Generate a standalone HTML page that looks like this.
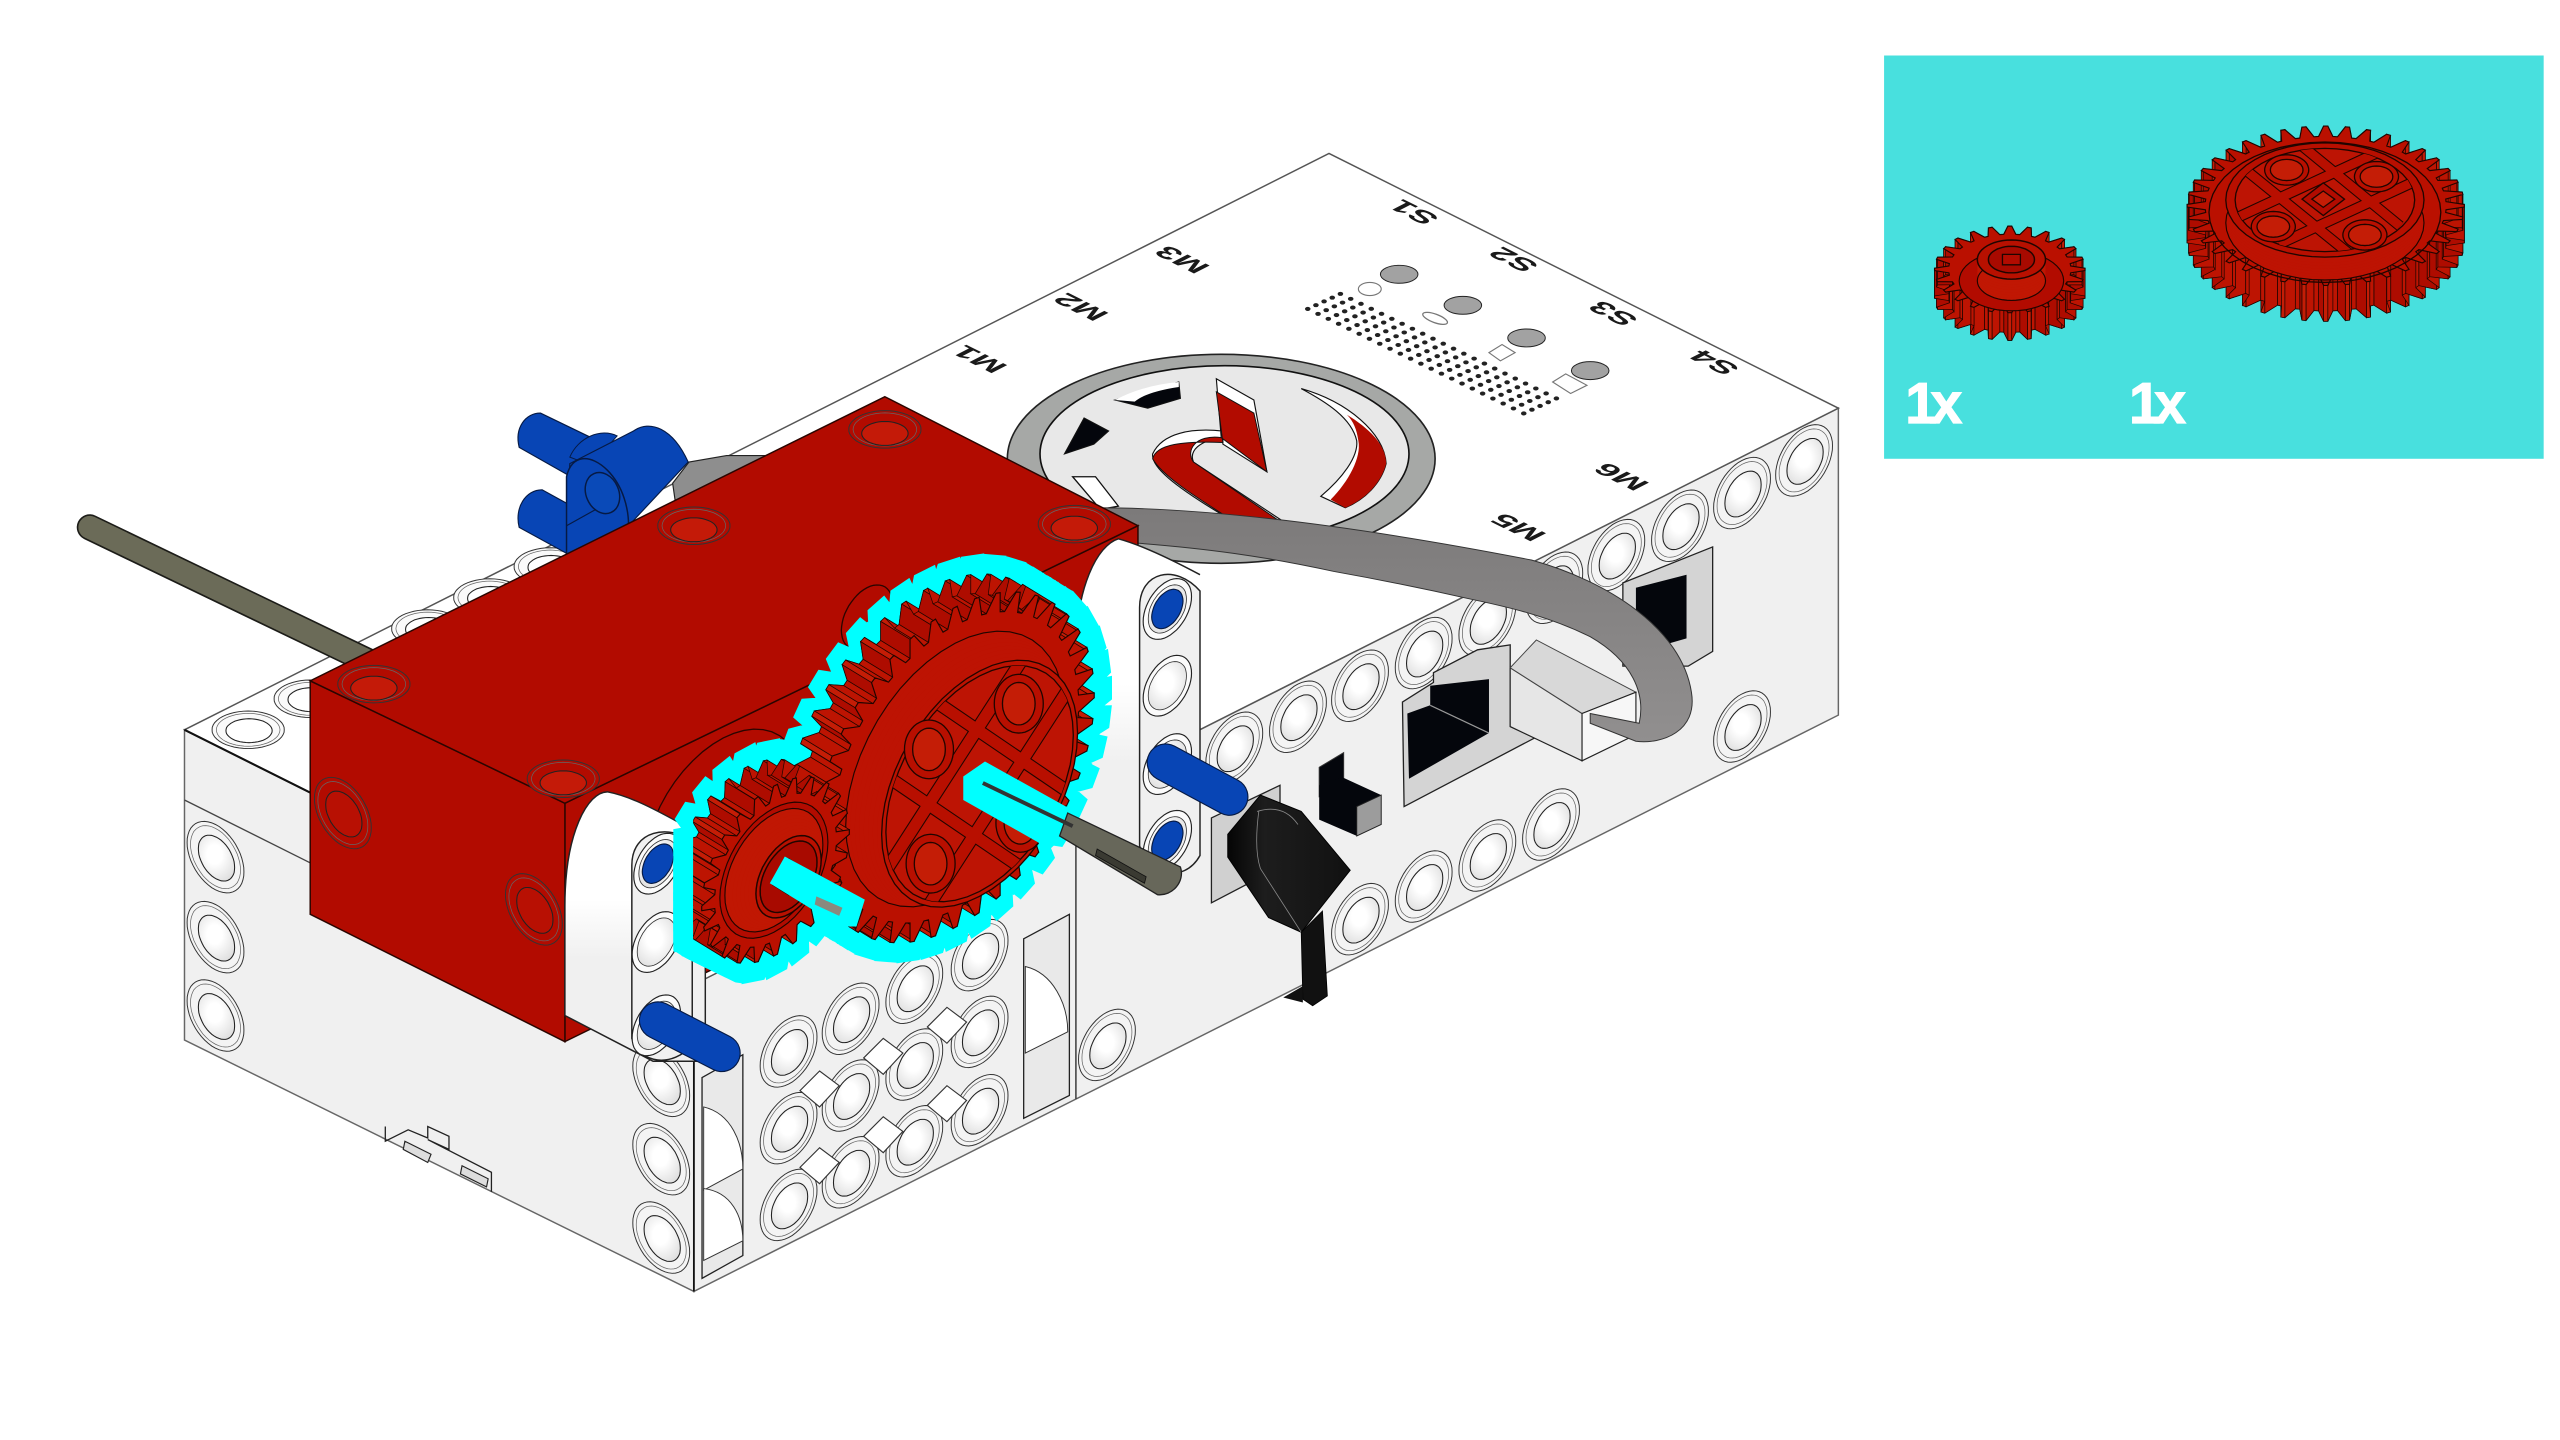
<!DOCTYPE html>
<html lang="en">
<head>
<meta charset="utf-8">
<title>Gear assembly step</title>
<style>
html,body{margin:0;padding:0;background:#fff;width:2560px;height:1440px;overflow:hidden}
svg{display:block}
text{font-family:"Liberation Sans",sans-serif}
</style>
</head>
<body>
<svg id="art" width="2560" height="1440" viewBox="0 0 1568 882" xmlns="http://www.w3.org/2000/svg">
<defs>
<radialGradient id="holeGrad" cx="0.45" cy="0.42" r="0.7"><stop offset="0.3" stop-color="#ffffff"/><stop offset="1" stop-color="#dcdcdc"/></radialGradient>
<linearGradient id="beamGrad" x1="0" y1="0" x2="0" y2="1"><stop offset="0" stop-color="#ffffff"/><stop offset="0.4" stop-color="#ffffff"/><stop offset="0.62" stop-color="#f0f0f0"/><stop offset="1" stop-color="#f0f0f0"/></linearGradient>
<linearGradient id="cableGrad" x1="0" y1="0" x2="0" y2="1"><stop offset="0" stop-color="#7c7a7a"/><stop offset="1" stop-color="#918f8f"/></linearGradient>
<linearGradient id="keyGrad" x1="0" y1="0" x2="1" y2="0"><stop offset="0" stop-color="#050505"/><stop offset="0.3" stop-color="#1d1d1d"/><stop offset="1" stop-color="#111"/></linearGradient>
<clipPath id="smallGearClip"><polygon points="424.6,400 560,400 560,650 451,592 424.6,578"/></clipPath>
<clipPath id="smallHaloClip"><polygon points="412.4,400 560,400 560,650 470,612 451,602 412.4,583"/></clipPath>
</defs>

<g id="hub">
<polygon points="113,447 425,603 425,791 113,637" fill="#f0f0f0" stroke="#666" stroke-width="0.9"/>
<polygon points="425,603 1126,250 1126,438 425,791" fill="#f0f0f0" stroke="#666" stroke-width="0.9"/>
<polygon points="814,94 1126,250 425,603 113,447" fill="#ffffff" stroke="#555" stroke-width="0.9"/>
<line x1="113" y1="447" x2="195" y2="488" stroke="#111" stroke-width="1.3"/>
<line x1="113" y1="490" x2="195" y2="531" stroke="#444" stroke-width="0.8"/>
<line x1="425" y1="603" x2="425" y2="791" stroke="#111" stroke-width="1.1"/>
<polyline points="236,690 236,699 250,692 262,697 262,690 275,696 275,704 262,698 301,718 301,730" fill="none" stroke="#222" stroke-width="0.8"/>
<polygon points="248,699 264,707 262,712 247,704" fill="#ddd" stroke="#222" stroke-width="0.7"/>
<polygon points="283,714 299,722 298,727 282,719" fill="#ddd" stroke="#222" stroke-width="0.7"/>
</g>

<g id="topLabels" font-size="15.5" font-weight="700" fill="#1a1a1a" text-anchor="middle" dominant-baseline="central">
<text transform="matrix(-1.25 -0.62 0.9 -0.46 600 220)">M1</text>
<text transform="matrix(-1.25 -0.62 0.9 -0.46 662 188)">M2</text>
<text transform="matrix(-1.25 -0.62 0.9 -0.46 724 159)">M3</text>
<text transform="matrix(-1.25 -0.62 0.9 -0.46 866 130)">S1</text>
<text transform="matrix(-1.25 -0.62 0.9 -0.46 927 159)">S2</text>
<text transform="matrix(-1.25 -0.62 0.9 -0.46 988 192)">S3</text>
<text transform="matrix(-1.25 -0.62 0.9 -0.46 1050 222)">S4</text>
<text transform="matrix(-1.25 -0.62 0.9 -0.46 930 323)">M5</text>
<text transform="matrix(-1.25 -0.62 0.9 -0.46 993 292)">M6</text>
</g>

<g id="speaker"></g>
<g id="buttons">
<ellipse cx="857" cy="168" rx="11.5" ry="5.5" fill="#a2a2a2" stroke="#222" stroke-width="0.6"/>
<ellipse cx="896" cy="187" rx="11.5" ry="5.5" fill="#a2a2a2" stroke="#222" stroke-width="0.6"/>
<ellipse cx="935" cy="207" rx="11.5" ry="5.5" fill="#a2a2a2" stroke="#222" stroke-width="0.6"/>
<ellipse cx="974" cy="227" rx="11.5" ry="5.5" fill="#a2a2a2" stroke="#222" stroke-width="0.6"/>
<ellipse cx="839" cy="177" rx="7" ry="4" fill="none" stroke="#777" stroke-width="0.7"/>
<ellipse cx="879" cy="195" rx="8" ry="2.6" fill="none" stroke="#777" stroke-width="0.8" transform="rotate(20 879 195)"/>
<polygon points="912,216 920,211 928,216 919,221" fill="#fff" stroke="#777" stroke-width="0.7"/>
<polygon points="951,234 959,229 972,236 962,241" fill="#fff" stroke="#777" stroke-width="0.7"/>
</g>

<g id="disk">
<ellipse cx="748" cy="281" rx="131" ry="64" fill="#a6a8a6" stroke="#222" stroke-width="1"/>
<ellipse cx="750" cy="278" rx="113" ry="54" fill="#e8e8e8" stroke="#111" stroke-width="1"/>
<polygon points="683,245 722,234 723,244 703,250" fill="#04060c" stroke="#111" stroke-width="0.7"/>
<path d="M683,245 Q700,236 722,234 L722,237 Q702,240 695,246 Z" fill="#fff"/>
<polygon points="664,256 679,264 670,272 652,278" fill="#04060c" stroke="#111" stroke-width="0.7"/>
<polygon points="657,292 671,292 685,310 674,312" fill="#fff" stroke="#111" stroke-width="0.8"/>
<path d="M745,232 L768,245 L776,289 L749,272 L749,264 C730,262 712,265 706,278 C705,285 715,296 760,322 L790,322 L731,283 C728,276 735,270 748,268 Z" fill="#fff" stroke="#111" stroke-width="0.7"/>
<path d="M745,240 L768,253 L776,289 L748,268 C732,266 726,276 731,283 L785,320 L760,322 C735,306 712,292 706,281 C708,272 725,270 749,271 Z" fill="#b20b00" stroke="#111" stroke-width="0.6"/>
<path d="M797,238 C825,246 848,265 849,284 C846,296 836,306 824,311 L809,304 C822,293 832,280 831,270 C828,256 812,246 797,238 Z" fill="#fff" stroke="#111" stroke-width="0.7"/>
<path d="M825,254 C838,262 849,272 849,284 C846,296 836,306 824,311 L815,306 C826,295 834,280 832,270 C831,263 829,258 825,254 Z" fill="#b20b00"/>
</g>

<g id="holes"></g>

<g id="frontPanel">
<polygon points="430,660 455,646 455,769 430,783" fill="#e9e9e9" stroke="#222" stroke-width="0.8"/>
<path d="M431,678 C448,682 455,700 455,716 L431,729 Z" fill="#fff" stroke="#333" stroke-width="0.6"/>
<path d="M431,728 C448,730 455,745 455,760 L431,772 Z" fill="#fff" stroke="#333" stroke-width="0.6"/>
<polygon points="627,575 655,560 655,671 627,685" fill="#e9e9e9" stroke="#222" stroke-width="0.8"/>
<path d="M628,592 C645,596 654,615 654,632 L628,645 Z" fill="#fff" stroke="#333" stroke-width="0.6"/>
</g>

<g id="rearParts">
<polygon points="412,296 422,283 445,279 470,279 470,300 414,310" fill="#8e8e8e" stroke="#222" stroke-width="0.7"/>
<line x1="55" y1="323" x2="240" y2="412" stroke="#1c1c18" stroke-width="16" stroke-linecap="round"/>
<line x1="55" y1="323" x2="240" y2="412" stroke="#6b6b58" stroke-width="14" stroke-linecap="round"/>
<path d="M331,253 L362,268 L348,291 L318,274 C315,262 322,253 331,253 Z" fill="#0845b5" stroke="#061a44" stroke-width="0.7"/>
<path d="M332,300 L352,311 L349,340 L318,323 C315,311 322,300 332,300 Z" fill="#0845b5" stroke="#061a44" stroke-width="0.7"/>
<path d="M349,280 C354,268 368,262 378,267 L362,285 Z" fill="#0845b5" stroke="#061a44" stroke-width="0.6"/>
<path d="M349,284 L388,264 C398,257 412,262 421.5,283 L385,322 L347,340 Z" fill="#0845b5" stroke="#061a44" stroke-width="0.7"/>
<path d="M347,340 L347,292 C350,278 362,278 372,288 C382,298 385,312 385,322 Z" fill="#0845b5" stroke="#061a44" stroke-width="0.9"/>
<ellipse cx="369" cy="302" rx="10" ry="13" fill="#0a4ab8" stroke="#061a44" stroke-width="0.9" transform="rotate(-24 369 302)"/>
<line x1="347" y1="322" x2="365" y2="312" stroke="#061a44" stroke-width="0.7"/>
</g>

<g id="ports">
<polygon points="994,357 1049,335 1049,399 1034,408 994,408" fill="#d4d4d4" stroke="#222" stroke-width="0.8"/>
<polygon points="1002,360 1033,352 1033,391 1002,400" fill="#04060c"/>
<polygon points="859,430 878,418 878,412 905,398 925,395 925,445 940,452 860,494" fill="#d4d4d4" stroke="#222" stroke-width="0.8"/>
<polygon points="862,437 876,432 876,420 912,416 912,449 863,477" fill="#04060c"/>
<polyline points="876,432 912,449" fill="none" stroke="#999" stroke-width="0.7"/>
<polygon points="925,409 969,437 969,466 925,445" fill="#e6e6e6" stroke="#222" stroke-width="0.7"/>
<polygon points="925,409 941,392 1002,424 969,437" fill="#d8d8d8" stroke="#444" stroke-width="0.6"/>
<polygon points="969,437 1002,424 1002,450 969,466" fill="#f7f7f7" stroke="#222" stroke-width="0.7"/>
<polygon points="742,501 784,481 784,531 742,553" fill="#d0d0d0" stroke="#222" stroke-width="0.8"/>
<polygon points="808,470 823,461 823,480 808,488" fill="#04060c" stroke="#333" stroke-width="0.6"/>
<polygon points="808,481 822,476 846,487 846,505 831,512 808,502" fill="#04060c"/>
<polygon points="831,494 846,487 846,505 831,512" fill="#9c9c9c" stroke="#222" stroke-width="0.6"/>
</g>

<path id="cable" d="M672,311 C740,311 830,322 938,343 C985,356 1030,385 1036,424 C1040,448 1018,456 1002,454 L974,443 L974,437 L1004,443 C1008,425 1000,405 974,390 C950,378 925,372 901,367 C870,360 845,355 817,350 C780,342 740,335 672,331 Z" fill="url(#cableGrad)" stroke="#333" stroke-width="0.6"/>

<g id="block">
<polygon points="346,492 697,322 697,466 346,638" fill="#b20b00" stroke="#2a0500" stroke-width="0.9"/>
<polygon points="190,417 346,492 346,638 190,560" fill="#b20b00" stroke="#2a0500" stroke-width="0.9"/>
<polygon points="542,243 697,322 346,492 190,417" fill="#b20b00" stroke="#2a0500" stroke-width="0.9"/>
</g>
<g id="blockHoles"></g>

<g id="beams">
<path d="M659,400 C659,360 672,334 685,330 C700,334 720,344 735,352 L735,540 L697,552 L659,540 Z" fill="url(#beamGrad)"/>
<path d="M659,400 C659,360 672,334 685,330 C700,334 720,344 735,352" fill="none" stroke="#222" stroke-width="0.9"/>
<line x1="659" y1="400" x2="659" y2="673" stroke="#222" stroke-width="0.8"/>
<path d="M698,372 C698,350 720,345 735,362 L735,524 C725,542 702,536 698,518 Z" fill="#f0f0f0" stroke="#222" stroke-width="0.9"/>
<path d="M346,555 C346,510 360,485 372,485 C388,488 405,498 420,506 L432,520 L432,650 L400,650 L346,622 Z" fill="url(#beamGrad)" stroke="#222" stroke-width="0.9"/>
<path d="M387,530 C387,508 410,505 424,515 L424,640 C412,654 392,652 387,636 Z" fill="#f0f0f0" stroke="#222" stroke-width="0.9"/>
</g>
<g id="beamHoles"></g>

<g id="gearAssembly"></g>

<g id="frontBits">
<polygon points="590,475.6 603.3,466.4 660,498 652,512 641,522 636,516 590,490" fill="#00ffff"/>
<path d="M654,498 L723,531 C726,540 718,549 709,548 L649,512 Z" fill="#67675a" stroke="#222" stroke-width="0.8"/>
<polygon points="672,520 702,537 701,541 671,524" fill="#3a3a32" stroke="#111" stroke-width="0.5"/>
<line x1="602" y1="479.6" x2="657" y2="506" stroke="#333" stroke-width="2.4"/>
<polygon points="471.5,541 480.7,524.6 529.7,551 524.6,567.5 514.4,567.5" fill="#00ffff"/>
<polygon points="500,549 516,556 514,561 499,554" fill="#8a8a7e"/>
<line x1="403" y1="625" x2="442" y2="645" stroke="#061a44" stroke-width="23.4" stroke-linecap="round"/>
<line x1="403" y1="625" x2="442" y2="645" stroke="#0845b5" stroke-width="22" stroke-linecap="round"/>
<line x1="714" y1="467" x2="753" y2="488" stroke="#061a44" stroke-width="23.4" stroke-linecap="round"/>
<line x1="714" y1="467" x2="753" y2="488" stroke="#0845b5" stroke-width="22" stroke-linecap="round"/>
<polygon points="752,511 772,487 797,497 827,533 797,571 777,562 752,525" fill="url(#keyGrad)" stroke="#000" stroke-width="0.6"/>
<path d="M770,497 Q786,492 795,505 M771,497 Q768,520 772,532 L797,571" fill="none" stroke="#888" stroke-width="0.5"/>
<polygon points="797,571 810,558 813,610 804,616 798,612" fill="#111" stroke="#000" stroke-width="0.5"/>
<polygon points="786,611 798,604 798,614" fill="#111"/>
</g>

<g id="panel">
<rect x="1154" y="34" width="404" height="247" fill="#48e0de"/>
<g id="panelGears"></g>
<text x="1167" y="259" font-size="35" font-weight="700" fill="#fff" stroke="#fff" stroke-width="0.7" letter-spacing="-4">1x</text>
<text x="1304" y="259" font-size="35" font-weight="700" fill="#fff" stroke="#fff" stroke-width="0.7" letter-spacing="-4">1x</text>
</g>
</svg>

<script>
const NS = 'http://www.w3.org/2000/svg';
function add(parent, tag, attrs, name) {
  const el = document.createElementNS(NS, tag);
  for (const k in attrs) el.setAttribute(k, attrs[k]);
  
  
  parent.appendChild(el);
  return el;
}
const $ = id => document.getElementById(id);
const RIGHT = { u: [0.87, -0.45], v: [0, 1] };
const LEFT = { u: [0.87, 0.45], v: [0, 1] };
const TOP = { u: [0.87, 0.45], v: [0.87, -0.45] };
const PANEL = { u: [0.87, 0.5], v: [0.87, -0.5] };

function ell(c, R, f, steps) {
  const n = steps || 48;
  let d = '';
  for (let i = 0; i < n; i++) {
    const a = i / n * 2 * Math.PI;
    const x = c[0] + R * (f.u[0] * Math.cos(a) + f.v[0] * Math.sin(a));
    const y = c[1] + R * (f.u[1] * Math.cos(a) + f.v[1] * Math.sin(a));
    d += (i ? 'L' : 'M') + x.toFixed(1) + ',' + y.toFixed(1);
  }
  return d + 'Z';
}
function hole(parent, c, f, R, ringFill, innerFill, name, off) {
  const o = off || [R * 0.03, R * 0.03];
  add(parent, 'path', { d: ell(c, R, f), fill: ringFill, stroke: '#333', 'stroke-width': 0.6 }, name + '-rim');
  add(parent, 'path', { d: ell(c, R * 0.88, f), fill: ringFill, stroke: '#666', 'stroke-width': 0.45 }, name + '-rim-inner');
  add(parent, 'path', { d: ell([c[0] + o[0], c[1] + o[1]], R * 0.64, f), fill: innerFill, stroke: '#222', 'stroke-width': 0.65 }, name + '-bore');
}

/* technic holes on the hub */
const rightHoles = [[1105,282],[1067,302],[1029,322],[990,340],[952,360],[911,380],[872,400],[833,420],[795,439],[756,458],
  [1067,445],[950,505],[911,524],[872,543],[833,563],[678,640],
  [483,644],[521,624],[560,605],[600,585],[483,691],[521,671],[560,652],[600,632],[483,738],[521,718],[560,699],[600,680]];
const leftHoles = [[132,525],[132,574],[132,622],[405,662],[405,710],[405,758]];
const topHoles = [[152,447],[190,428],[262,385],[300,366],[337,347]];
const diamonds = [[502,667],[541,647],[580,628],[502,714],[541,695],[580,676]];
rightHoles.forEach(c => hole($('holes'), c, RIGHT, 20, '#f4f4f4', 'url(#holeGrad)', 'hub-hole'));
leftHoles.forEach(c => hole($('holes'), c, LEFT, 20, '#f4f4f4', 'url(#holeGrad)', 'hub-hole'));
topHoles.forEach(c => hole($('holes'), c, TOP, 18, '#fafafa', '#ffffff', 'hub-top-hole'));
diamonds.forEach(c => add($('holes'), 'polygon', {
  points: [[c[0]-12,c[1]+1],[c[0],c[1]-11],[c[0]+12,c[1]-2],[c[0],c[1]+11]].map(p => p.join(',')).join(' '),
  fill: '#fff', stroke: '#333', 'stroke-width': 0.7 }, 'panel-cutout'));

/* speaker grille */
for (let i = 0; i < 22; i++) for (let j = 0; j < 5; j++) {
  const x = 821 + i * 6.3 - j * 5;
  const y = 180 + i * 3.05 + j * 2.3;
  add($('speaker'), 'ellipse', { cx: x, cy: y, rx: 1.7, ry: 1.25, fill: '#222' }, 'speaker-dot');
}

/* red block holes */
const redTop = [[542,263],[425,322],[229,419],[345,477],[658,321]];
const redLeft = [[210,498],[327,557]];
redTop.forEach(c => hole($('blockHoles'), c, TOP, 18, '#b20b00', '#c41a08', 'gearbox-top-hole', [0, 2.5]));
redLeft.forEach(c => hole($('blockHoles'), c, LEFT, 20, '#b20b00', '#b81003', 'gearbox-side-hole'));
add($('blockHoles'), 'path', { d: ell([531,378], 18, RIGHT), fill: '#b20b00', stroke: '#2a0500', 'stroke-width': 0.8 }, 'gearbox-right-hole');
add($('blockHoles'), 'path', { d: ell([443,508], 56, RIGHT), fill: '#b20b00', stroke: '#2a0500', 'stroke-width': 0.8 }, 'gear-mount-ring');

/* beam holes */
const farBeamHoles = [[715,373],[715,420],[715,468],[715,515]];
const nearBeamHoles = [[403,529],[402,577],[402,628]];
farBeamHoles.concat(nearBeamHoles).forEach(c => {
  add($('beamHoles'), 'path', { d: ell(c, 17, RIGHT), fill: '#fbfbfb', stroke: '#222', 'stroke-width': 0.7 }, 'liftarm-hole');
  add($('beamHoles'), 'path', { d: ell(c, 13.5, RIGHT), fill: 'url(#holeGrad)', stroke: '#333', 'stroke-width': 0.5 }, 'liftarm-bore');
});
[[715,373],[403,529],[715,515]].forEach(c => {
  add($('beamHoles'), 'path', { d: ell(c, 11, RIGHT), fill: '#0845b5', stroke: '#061a44', 'stroke-width': 0.7 }, 'blue-pin-end');
});

/* gears */
function gearPts(c, R, tooth, n, f) {
  const pts = [];
  const p = 2 * Math.PI / n;
  const r = R - tooth;
  for (let i = 0; i < n; i++) {
    const a = i * p;
    [[a - 0.38 * p, r], [a - 0.1 * p, R], [a + 0.1 * p, R], [a + 0.38 * p, r]].forEach(s => {
      pts.push([c[0] + s[1] * (f.u[0] * Math.cos(s[0]) + f.v[0] * Math.sin(s[0])),
                c[1] + s[1] * (f.u[1] * Math.cos(s[0]) + f.v[1] * Math.sin(s[0]))]);
    });
  }
  return pts;
}
const ptsStr = pts => pts.map(p => p[0].toFixed(1) + ',' + p[1].toFixed(1)).join(' ');
const shift = (pts, d) => pts.map(p => [p[0] + d[0], p[1] + d[1]]);

function gearBody(parent, c, R, tooth, n, f, d, name) {
  const front = gearPts(c, R, tooth, n, f);
  const back = shift(front, d);
  add(parent, 'polygon', { points: ptsStr(back), fill: '#b40d00', stroke: '#200500', 'stroke-width': 0.5 }, name + '-back');
  const quads = [];
  front.forEach((p, i) => {
    const q = front[(i + 1) % front.length];
    const mid = [(p[0] + q[0]) / 2, (p[1] + q[1]) / 2];
    quads.push({ p, q, depth: mid[0] * d[0] + mid[1] * d[1], tone: i % 4 });
  });
  quads.sort((a, b) => b.depth - a.depth);
  quads.forEach(k => {
    add(parent, 'polygon', {
      points: ptsStr([k.p, k.q, [k.q[0] + d[0], k.q[1] + d[1]], [k.p[0] + d[0], k.p[1] + d[1]]]),
      fill: k.tone === 1 ? '#c41d06' : (k.tone === 0 ? '#ae0c00' : '#bd1402'),
      stroke: '#200500', 'stroke-width': 0.45 }, name + '-tooth-side');
  });
  add(parent, 'polygon', { points: ptsStr(front), fill: '#ba1000', stroke: '#200500', 'stroke-width': 0.7 }, name + '-face');
}
function cyanHalo(parent, c, R, tooth, n, f, d, name) {
  const front = gearPts(c, R + 5, tooth + 3, n, f);
  for (let s = 0; s <= 4; s++) {
    add(parent, 'polygon', { points: ptsStr(shift(front, [d[0] * s / 4, d[1] * s / 4])),
      fill: '#00ffff', stroke: '#00ffff', 'stroke-width': 13, 'stroke-linejoin': 'miter', 'stroke-miterlimit': 2 }, name);
  }
}
function wallHull(parent, c0, R0, c1, R1, f, fill, name) {
  for (let s = 0; s <= 8; s++) {
    const t = s / 8;
    add(parent, 'path', { d: ell([c0[0] + (c1[0] - c0[0]) * t, c0[1] + (c1[1] - c0[1]) * t], R0 + (R1 - R0) * t, f), fill: fill }, name + '-wall');
  }
  add(parent, 'path', { d: ell(c0, R0, f), fill: 'none', stroke: '#200500', 'stroke-width': 0.7 }, name + '-wall-line');
}
let clipCount = 0;
function hashWeb(parent, clipD, c, bars, barW, holes, bossF, holeF, name) {
  const id = 'webClip' + (clipCount++);
  const cp = document.createElementNS(NS, 'clipPath');
  cp.setAttribute('id', id);
  const cpPath = document.createElementNS(NS, 'path');
  cpPath.setAttribute('d', clipD);
  cp.appendChild(cpPath);
  document.querySelector('#art defs').appendChild(cp);
  add(parent, 'path', { d: clipD, fill: '#bd1404', stroke: '#200500', 'stroke-width': 0.8 }, name + '-recess');
  const web = add(parent, 'g', { 'clip-path': 'url(#' + id + ')' }, name + '-web');
  bars.forEach(b => add(web, 'line', { x1: c[0] + b[0], y1: c[1] + b[1], x2: c[0] + b[2], y2: c[1] + b[3], stroke: '#200500', 'stroke-width': barW + 1.3 }, name + '-bar-edge'));
  bars.forEach(b => add(web, 'line', { x1: c[0] + b[0], y1: c[1] + b[1], x2: c[0] + b[2], y2: c[1] + b[3], stroke: '#b80f00', 'stroke-width': barW }, name + '-bar'));
  holes.forEach(h => {
    const hc = [c[0] + h[0], c[1] + h[1]];
    add(parent, 'path', { d: ell(hc, 1, bossF), fill: '#b80f00', stroke: '#200500', 'stroke-width': 0.8 }, name + '-pin-boss');
    add(parent, 'path', { d: ell(hc, 1, holeF), fill: '#c41d06', stroke: '#200500', 'stroke-width': 0.8 }, name + '-pin-hole');
  });
}
function smallDetail(parent, c0, R0, c1, R1, Rb, webR, f, name) {
  add(parent, 'path', { d: ell(c0, webR, f), fill: '#b20b00', stroke: '#200500', 'stroke-width': 0.7 }, name + '-web');
  wallHull(parent, c0, R0, c1, R1, f, '#c01703', name);
  add(parent, 'path', { d: ell(c1, R1, f), fill: '#b81000', stroke: '#200500', 'stroke-width': 0.9 }, name + '-hub');
  add(parent, 'path', { d: ell(c1, Rb, f), fill: '#a80a00', stroke: '#200500', 'stroke-width': 0.9 }, name + '-hub-bore');
  add(parent, 'path', { d: ell(c1, Rb * 0.55, f, 4), fill: '#b20b00', stroke: '#200500', 'stroke-width': 0.8 }, name + '-axle-hole');
}

const bigC = [585, 470], smallC = [475, 533];
const depth = [-18, -11];
const ga = $('gearAssembly');
const haloBig = add(ga, 'g', {}, 'big-gear-highlight-group');
const haloSmall = add(ga, 'g', { 'clip-path': 'url(#smallHaloClip)' }, 'small-gear-highlight-group');
cyanHalo(haloBig, bigC, 98, 11, 40, RIGHT, depth, 'big-gear-highlight');
cyanHalo(haloSmall, smallC, 52, 9, 24, RIGHT, depth, 'small-gear-highlight');
gearBody(ga, bigC, 98, 11, 40, RIGHT, depth, 'big-gear');
wallHull(ga, [585, 471], 77, [600, 480], 69, RIGHT, '#bd1303', 'big-gear');
add(ga, 'path', { d: ell([600, 480], 69, RIGHT), fill: '#bc1201', stroke: '#200500', 'stroke-width': 0.8 }, 'big-gear-rim');

/* hash web of the big gear: bars (dx1,dy1,dx2,dy2) relative to the gear centre */
const bigBars = [[-100,-102,100,34],[-100,-36,100,100],[-60,62,60,-124],[-60,124,60,-62]];
const bigHoles = [[27,-49],[-28,-21],[-27,49],[28,24]];
hashWeb(ga, ell([600, 480], 66, RIGHT), [597, 480], bigBars, 7, bigHoles,
  { u: [15, 0], v: [0, 18] }, { u: [10, 0], v: [0, 13] }, 'big-gear');

const smallG = add(ga, 'g', { 'clip-path': 'url(#smallGearClip)' }, 'small-gear');
gearBody(smallG, smallC, 52, 9, 24, RIGHT, depth, 'small-gear');
smallDetail(smallG, [474, 533], 34.5, [483, 537], 23, 20, 38, RIGHT, 'small-gear');

const pg = $('panelGears');
gearBody(pg, [1231, 165], 37.5, 7, 24, PANEL, [0, 17], 'callout-small-gear');
smallDetail(pg, [1232, 172], 17, [1232, 159], 17, 11.5, 26, PANEL, 'callout-small-gear');
gearBody(pg, [1424.5, 126], 69, 9, 40, PANEL, [0, 22], 'callout-big-gear');
add(pg, 'path', { d: ell([1424, 130], 1, { u: [71, 0], v: [0, 43] }), fill: 'none', stroke: '#200500', 'stroke-width': 0.8 }, 'callout-big-gear-groove');
wallHull(pg, [1424, 136.5], 1, [1424, 122.5], 1, { u: [60.7, 0], v: [0, 35] }, '#bd1303', 'callout-big-gear');
add(pg, 'path', { d: ell([1424, 122.5], 1, { u: [60.7, 0], v: [0, 35] }), fill: '#b80f00', stroke: '#200500', 'stroke-width': 0.8 }, 'callout-big-gear-rim');

/* hash web of the callout gear */
const panelBars = [[-14,-34,47,16],[-47,-18,16,33],[33,-29,-51,10],[53,-10,-27,27]];
const panelHoles = [[-22.4,-18.4],[32.6,-14.3],[-30.6,16.3],[25.5,21.4]];
hashWeb(pg, ell([1424, 122.5], 1, { u: [55, 0], v: [0, 31.6] }), [1423, 122.5], panelBars, 5.5, panelHoles,
  { u: [13.5, 0], v: [0, 9.3] }, { u: [10, 0], v: [0, 6.5] }, 'callout-big-gear');
add(pg, 'path', { d: ell([1423, 122], 1, { u: [13, 0], v: [0, 10] }, 4), fill: '#b20b00', stroke: '#200500', 'stroke-width': 0.8 }, 'callout-big-gear-axle-boss');
add(pg, 'path', { d: ell([1423, 122], 1, { u: [7, 0], v: [0, 5] }, 4), fill: '#c41d06', stroke: '#200500', 'stroke-width': 0.8 }, 'callout-big-gear-axle-hole');
</script>
</body>
</html>
